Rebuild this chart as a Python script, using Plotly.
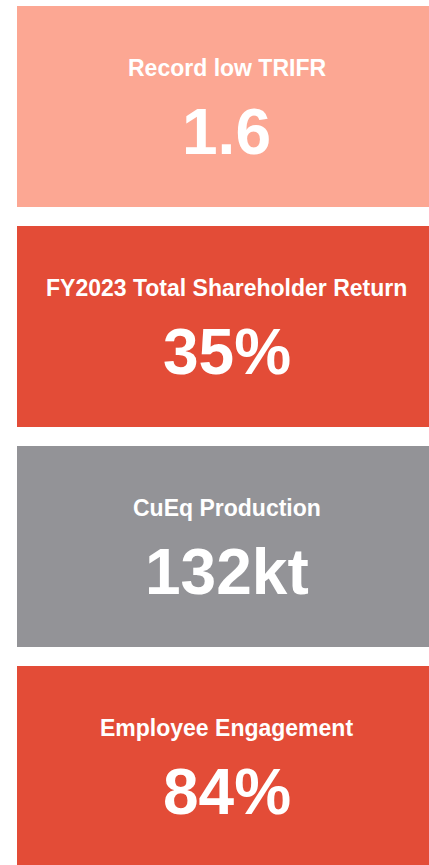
import plotly.graph_objects as go

# Data
titles = ["Record low TRIFR", "FY2023 Total Shareholder Return", "CuEq Production", "Employee Engagement"]
values = [1.6, 35, 132, 84]
units = ["", "%", "kt", "%"]
card_colors = ["#FCA793", "#E34C37", "#939397", "#E34C37"]

W, H = 429, 865
positions = list(range(len(titles)))

fig = go.Figure()
fig.add_trace(go.Bar(
    y=positions,
    x=[1] * len(titles),
    orientation="h",
    marker=dict(color=card_colors, line=dict(width=0)),
    hoverinfo="skip",
    showlegend=False,
))

FONT = "Liberation Sans, Arial, Helvetica, sans-serif"
text_x = 227 / W
for i, (t, v, u) in enumerate(zip(titles, values, units)):
    val_str = (f"{v:g}") + u
    fig.add_annotation(
        x=text_x, xref="paper", y=i, yref="y",
        text=t, showarrow=False, xanchor="center", yanchor="middle",
        yshift=39,
        font=dict(family=FONT, size=23, color="white", weight="bold"),
    )
    fig.add_annotation(
        x=text_x, xref="paper", y=i, yref="y",
        text=val_str, showarrow=False, xanchor="center", yanchor="middle",
        yshift=-25,
        font=dict(family=FONT, size=64, color="white", weight="bold"),
    )

# axes: left card edge at 17px, pitch 220px, card height ~201px
left_px = 17
r0 = -left_px / (W - left_px)
top_center = 106.5
pitch = 220.0
y_top = -top_center / pitch
y_bot = (H - top_center) / pitch

fig.update_layout(
    width=W, height=H,
    margin=dict(l=0, r=0, t=0, b=0),
    paper_bgcolor="white", plot_bgcolor="white",
    bargap=19 / 220,
    xaxis=dict(range=[r0, 1], visible=False, fixedrange=True),
    yaxis=dict(range=[y_bot, y_top], visible=False, fixedrange=True),
)

fig.write_html(
    "out.html",
    config={"displayModeBar": False},
    post_script="document.body.style.margin='0';document.body.style.overflow='hidden';",
)
